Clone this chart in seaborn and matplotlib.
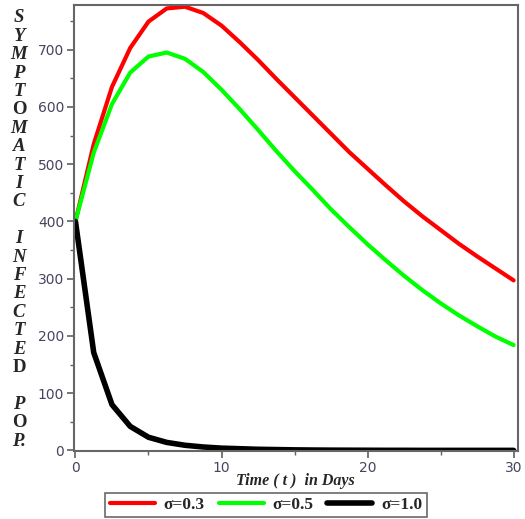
import numpy as np
import pandas as pd
import matplotlib
matplotlib.use('Agg')
import matplotlib.pyplot as plt
import seaborn as sns
from matplotlib.ticker import MultipleLocator

# time grid (days) and values
t = [0, 1.25, 2.5, 3.75, 5, 6.25, 7.5, 8.75, 10, 11.25, 12.5, 13.75, 15,
     16.25, 17.5, 18.75, 20, 21.25, 22.5, 23.75, 25, 26.25, 27.5, 28.75, 30]

sigma_03 = [400, 535, 635, 703, 749, 772, 775, 764, 742, 713, 682, 649, 617,
            585, 553, 521, 492, 463, 435, 409, 385, 361, 339, 318, 297]
sigma_05 = [400, 520, 605, 660, 688, 695, 684, 661, 630, 596, 560, 523, 488,
            455, 421, 390, 360, 332, 305, 280, 257, 236, 217, 199, 184]
sigma_10 = [400, 171, 80, 42, 23, 14, 9, 6, 4, 3, 2, 1.5, 1,
            0.7, 0.5, 0.4, 0.3, 0.2, 0.2, 0.1, 0.1, 0.1, 0.1, 0.1, 0.1]

labels = ['σ=0.3', 'σ=0.5', 'σ=1.0']
colors = ['#ff0000', '#00ff00', '#000000']
widths = [3.0, 3.0, 4.0]

ylabel_letters = list('SYMPTOMATIC') + [''] + list('INFECTED') + [''] + ['P', 'O', 'P.']

sns.set_style('ticks')
fig = plt.figure(figsize=(5.25, 5.19), dpi=100)
ax = fig.add_axes([74 / 525, 1 - 451 / 519, 444 / 525, 446 / 519])

df = pd.DataFrame({'t': t, labels[0]: sigma_03, labels[1]: sigma_05, labels[2]: sigma_10})
for lab, col, lw in zip(labels, colors, widths):
    sns.lineplot(data=df, x='t', y=lab, color=col, lw=lw, ax=ax, label=lab)
ax.get_legend().remove()

ax.set_xlim(-0.1, 30.3)
ax.set_ylim(-1, 778)
ax.xaxis.set_major_locator(MultipleLocator(10))
ax.xaxis.set_minor_locator(MultipleLocator(5))
ax.yaxis.set_major_locator(MultipleLocator(100))
ax.yaxis.set_minor_locator(MultipleLocator(50))
ax.set_xlabel('')
ax.set_ylabel('')

tick_col = '#45455e'
ax.tick_params(which='major', length=5, width=1.2, color='#606060',
               labelsize=10, labelcolor=tick_col, pad=2)
ax.tick_params(which='minor', length=3, width=1.0, color='#606060')
for sp in ax.spines.values():
    sp.set_color('#666666')
    sp.set_linewidth(1.5)

# stacked vertical y label
for i, ch in enumerate(ylabel_letters):
    if not ch:
        continue
    y_px = 18 + i * 18.4
    style = 'normal' if ch in ('O', 'D') else 'italic'
    fig.text(19 / 525, 1 - y_px / 519, ch, ha='center', va='center',
             family='Liberation Serif', fontweight='bold', fontstyle=style,
             fontsize=13.5)

fig.text(295 / 525, 1 - 481 / 519, 'Time ( t )  in Days', ha='center', va='center',
         family='Liberation Serif', fontweight='bold', fontstyle='italic', fontsize=11.5)

h, l = ax.get_legend_handles_labels()
leg = fig.legend(h, l, loc='center', bbox_to_anchor=(266 / 525, 1 - 505 / 519),
                 ncol=3, frameon=True, fancybox=False, handlelength=2.6,
                 columnspacing=0.8, handletextpad=0.5, borderpad=0.25,
                 prop={'family': 'Liberation Serif', 'weight': 'bold', 'size': 12.5})
leg.get_frame().set_edgecolor('#444444')
leg.get_frame().set_linewidth(1.2)

fig.savefig('out.png', dpi=100)
